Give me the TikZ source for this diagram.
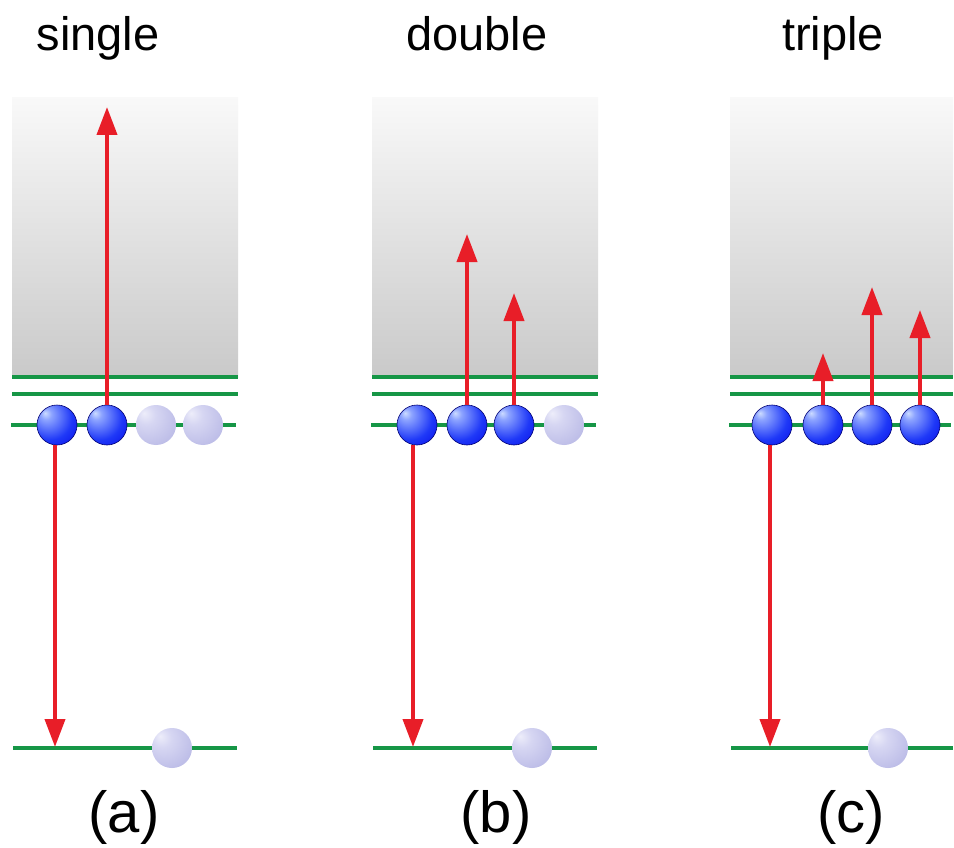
\documentclass[tikz,border=0pt]{standalone}
\usepackage{fontspec}
\setmainfont{Liberation Sans}
\usetikzlibrary{arrows.meta}
\definecolor{lvlgreen}{RGB}{22,150,70}
\definecolor{arrred}{RGB}{232,30,40}
\pgfdeclareradialshading{bluesph}{\pgfpoint{-15bp}{15bp}}{rgb(0bp)=(0.8,0.86,1); rgb(7bp)=(0.55,0.64,1); rgb(28bp)=(0.12,0.22,0.97); rgb(50bp)=(0,0,0.9); rgb(75bp)=(0,0,0.6)}
\pgfdeclareradialshading{palesph}{\pgfpoint{-15bp}{15bp}}{rgb(0bp)=(0.93,0.93,0.98); rgb(12bp)=(0.84,0.84,0.95); rgb(45bp)=(0.7,0.7,0.89); rgb(75bp)=(0.58,0.58,0.82)}
\tikzset{
  darkball/.style={circle, minimum size=40pt, inner sep=0pt, shading=bluesph, draw=blue!45!black, line width=0.6pt},
  paleball/.style={circle, minimum size=40pt, inner sep=0pt, shading=palesph},
  level/.style={draw=lvlgreen, line width=3.6pt},
  band/.style={top color=gray!5, bottom color=gray!42},
  jump/.style={draw=arrred, line width=4pt, -{Triangle[width=20pt,length=28pt]}},
  title/.style={anchor=base, font=\fontsize{47}{50}\selectfont, inner sep=0pt},
  panel/.style={anchor=base, font=\fontsize{58}{62}\selectfont, inner sep=0pt}
}
\begin{document}
\begin{tikzpicture}[x=1pt, y=-1pt]
\useasboundingbox (0,0) rectangle (954,848);
\fill[white] (0,0) rectangle (954,848);

% titles
\node[title] (ta) at (98,51) {single};
\node[title] (tb) at (477,51) {double};
\node[title] (tc) at (833,51) {triple};

% bands
\shade[band] (12,98) rectangle (238,377);
\shade[band] (372,98) rectangle (598,377);
\shade[band] (730,98) rectangle (953,377);

% levels panel a
\draw[level] (12,377) -- (238,377);
\draw[level] (12,394) -- (238,394);
\draw[level] (11,425) -- (236,425);
\draw[level] (13,748) -- (237,748);
% levels panel b
\draw[level] (372,377) -- (598,377);
\draw[level] (372,394) -- (598,394);
\draw[level] (371,425) -- (596,425);
\draw[level] (373,748) -- (597,748);
% levels panel c
\draw[level] (730,377) -- (953,377);
\draw[level] (730,394) -- (953,394);
\draw[level] (729,425) -- (951,425);
\draw[level] (731,748) -- (953,748);

% arrow targets
\coordinate (ua2) at (107,107);
\coordinate (da1) at (55,747);
\coordinate (ub2) at (467,234);
\coordinate (ub3) at (514,293);
\coordinate (db1) at (413,747);
\coordinate (uc2) at (823,353);
\coordinate (uc3) at (872,287);
\coordinate (uc4) at (920,310);
\coordinate (dc1) at (770,747);

% spheres panel a
\node[darkball] (a1) at (57,425) {};
\node[darkball] (a2) at (107,425) {};
\node[paleball] (a3) at (156,425) {};
\node[paleball] (a4) at (203,425) {};
\node[paleball] (a5) at (172,748) {};
% spheres panel b
\node[darkball] (b1) at (417,425) {};
\node[darkball] (b2) at (467,425) {};
\node[darkball] (b3) at (514,425) {};
\node[paleball] (b4) at (564,425) {};
\node[paleball] (b5) at (532,748) {};
% spheres panel c
\node[darkball] (c1) at (772,425) {};
\node[darkball] (c2) at (823,425) {};
\node[darkball] (c3) at (872,425) {};
\node[darkball] (c4) at (920,425) {};
\node[paleball] (c5) at (888,748) {};

% arrows
\draw[jump] (a2.north) -- (ua2);
\draw[jump] ([xshift=-2pt]a1.south) -- (da1);
\draw[jump] (b2.north) -- (ub2);
\draw[jump] (b3.north) -- (ub3);
\draw[jump] ([xshift=-4pt]b1.south) -- (db1);
\draw[jump] (c2.north) -- (uc2);
\draw[jump] (c3.north) -- (uc3);
\draw[jump] (c4.north) -- (uc4);
\draw[jump] ([xshift=-2pt]c1.south) -- (dc1);

% panel labels
\node[panel] (la) at (124,832) {(a)};
\node[panel] (lb) at (496,832) {(b)};
\node[panel] (lc) at (851,832) {(c)};
\end{tikzpicture}
\end{document}
